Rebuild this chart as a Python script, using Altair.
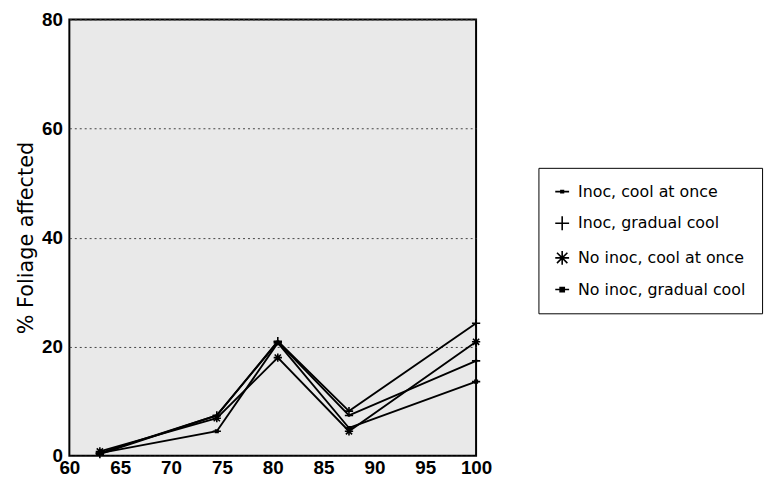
import altair as alt
import pandas as pd

x_vals = [63, 74.5, 80.5, 87.5, 100]
series_names = ["Inoc, cool at once", "Inoc, gradual cool",
                "No inoc, cool at once", "No inoc, gradual cool"]
inoc_once = [0.5, 7.4, 20.9, 7.4, 17.4]
inoc_gradual = [0.3, 7.4, 21.0, 8.2, 24.3]
noinoc_once = [0.8, 6.9, 18.0, 4.5, 20.9]
noinoc_gradual = [0.5, 4.5, 20.7, 5.1, 13.6]
x_ticks = [60, 65, 70, 75, 80, 85, 90, 95, 100]
y_ticks = [0, 20, 40, 60, 80]

rows = []
for name, vals in zip(series_names, [inoc_once, inoc_gradual, noinoc_once, noinoc_gradual]):
    for xv, yv in zip(x_vals, vals):
        rows.append({"x": xv, "y": yv, "series": name})
df = pd.DataFrame(rows)

shapes = [
    "M-1,0L1,0M-0.3,-0.15L0.3,-0.15M-0.3,0.15L0.3,0.15",
    "M-1,0L1,0M0,-1L0,1",
    "M-1,0L1,0M0,-1L0,1M-0.75,-0.75L0.75,0.75M-0.75,0.75L0.75,-0.75",
    "M-1,0L1,0M-0.3,-0.3L0.3,-0.3L0.3,0.3L-0.3,0.3ZM-0.3,-0.15L0.3,-0.15M-0.3,0.15L0.3,0.15",
]

FONT = "Liberation Sans"
LFONT = "DejaVu Sans"

xenc = alt.X("x:Q", scale=alt.Scale(domain=[60, 100], nice=False, zero=False),
             axis=alt.Axis(values=x_ticks, title=None, grid=False, ticks=False, domain=False,
                           labelFont=FONT, labelFontSize=19, labelFontWeight="bold",
                           labelColor="black", labelPadding=3, labelFlush=False))
yenc = alt.Y("y:Q", scale=alt.Scale(domain=[0, 80], nice=False),
             axis=alt.Axis(values=y_ticks, title="% Foliage affected", grid=True,
                           gridColor="#444", gridDash=[2, 3], gridWidth=1,
                           ticks=False, domain=False,
                           labelFont=FONT, labelFontSize=19, labelFontWeight="bold",
                           labelColor="black", labelPadding=7,
                           titleFont=LFONT, titleFontSize=21, titleFontWeight="normal",
                           titleColor="black", titlePadding=5))

base = alt.Chart(df)
lines = base.mark_line(color="black", strokeWidth=1.9).encode(
    x=xenc, y=yenc, detail="series:N")
points = base.mark_point(filled=False, color="black", strokeWidth=1.6, opacity=1, size=70).encode(
    x=xenc, y=yenc,
    shape=alt.Shape("series:N", scale=alt.Scale(domain=series_names, range=shapes),
                    legend=alt.Legend(title=None, orient="none", legendX=474, legendY=150,
                                      strokeColor="black", fillColor="white",
                                      padding=16, rowPadding=13, symbolSize=196,
                                      symbolStrokeColor="black",
                                      symbolStrokeWidth=1.6, labelOffset=8,
                                      labelFont=LFONT, labelFontSize=16, labelColor="black",
                                      labelLimit=300)))

chart = alt.layer(lines, points).properties(
    width=411, height=441,
    autosize=alt.AutoSizeParams(type="none"),
    padding={"left": 62, "top": 9, "right": 297, "bottom": 30},
).configure_view(fill="#e9e9e9", stroke="black", strokeWidth=2)

chart.save("out.html", embed_options={"renderer": "svg", "actions": False})
